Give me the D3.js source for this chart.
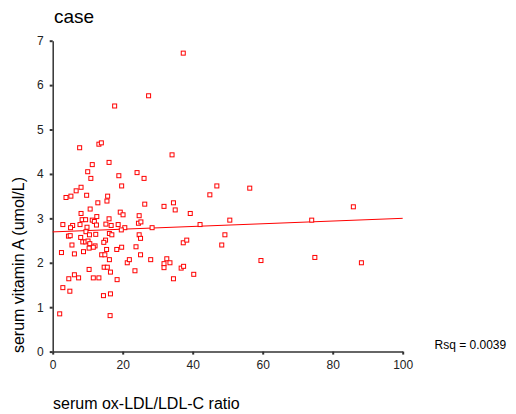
<!DOCTYPE html>
<html lang="en">
<head>
<meta charset="UTF-8">
<title>case</title>
<script src="https://d3js.org/d3.v7.min.js"></script>
<style>
    body { margin: 0; background: #fff; }
    svg { display: block; font-family: "Liberation Sans", Arial, sans-serif; }
    .axis path, .axis line { stroke: #333; }
    .axis text { fill: #222; font-size: 12px; }
</style>
</head>
<body>
<div id="chart"></div>
<script>
// serum ox-LDL/LDL-C ratio (x) and serum vitamin A in umol/L (y)
const ratio = [
    37.3, 27.4, 17.7, 7.7, 13.2, 13.9, 34.1, 11.3, 16.1, 10.0,
    10.9, 18.9, 24.1, 26.1, 19.7, 8.1, 6.7, 5.2, 3.8, 9.7,
    15.7, 44.9, 46.9, 56.3, 85.9, 74.0, 59.5, 74.9, 88.2, 50.6,
    49.2, 48.3, 42.1, 15.5, 34.5, 26.3, 12.9, 10.7, 31.8, 35.0,
    39.3, 8.1, 19.3, 20.1, 12.6, 24.7, 16.1, 8.4, 9.4, 11.3,
    11.9, 5.7, 2.9, 7.8, 9.8, 12.5, 15.2, 16.7, 18.7, 20.6,
    19.6, 24.5, 25.2, 28.4, 5.1, 9.5, 10.5, 8.0, 12.3, 4.5,
    5.0, 16.2, 16.9, 15.1, 14.6, 8.6, 9.4, 10.1, 10.6, 5.5,
    12.1, 11.6, 10.4, 2.5, 6.2, 8.8, 15.4, 18.3, 19.7, 14.0,
    14.9, 16.2, 21.3, 21.9, 10.4, 14.7, 15.6, 16.5, 6.2, 7.4,
    4.6, 11.6, 13.2, 18.4, 2.9, 4.9, 14.5, 16.5, 2.0, 16.4,
    24.7, 25.1, 37.3, 38.3, 23.8, 25.1, 28.0, 32.6, 31.8, 31.8,
    33.5, 36.7, 37.4, 23.5, 34.5, 40.3
];
const vitaminA = [
    6.72, 5.76, 5.53, 4.59, 4.67, 4.70, 4.43, 4.21, 4.26, 4.05,
    3.90, 3.96, 4.03, 3.90, 3.73, 3.70, 3.62, 3.50, 3.47, 3.52,
    3.50, 3.53, 3.73, 3.68, 3.26, 2.96, 2.05, 2.12, 2.00, 2.96,
    2.63, 2.40, 2.86, 3.39, 3.35, 3.32, 3.35, 3.21, 3.27, 3.19,
    3.11, 3.11, 3.14, 3.08, 3.04, 3.06, 2.99, 2.97, 2.97, 2.96,
    2.93, 2.84, 2.86, 2.86, 2.80, 2.85, 2.87, 2.84, 2.86, 2.79,
    2.74, 2.89, 2.92, 2.79, 2.79, 2.70, 2.63, 2.57, 2.64, 2.60,
    2.61, 2.66, 2.63, 2.51, 2.46, 2.47, 2.47, 2.49, 2.43, 2.40,
    2.38, 2.35, 2.33, 2.23, 2.20, 2.25, 2.30, 2.30, 2.35, 2.18,
    2.18, 2.07, 2.00, 2.07, 1.85, 1.90, 1.90, 1.79, 1.73, 1.66,
    1.64, 1.66, 1.66, 1.62, 1.44, 1.36, 1.26, 1.30, 0.85, 0.81,
    2.63, 2.55, 2.45, 2.51, 2.36, 2.18, 2.07, 2.09, 1.98, 1.89,
    2.00, 1.88, 1.92, 1.82, 1.64, 1.74
];
const xTicks = [0, 20, 40, 60, 80, 100];
const yTicks = [0, 1, 2, 3, 4, 5, 6, 7];
const titleText = 'case';
const xLabel = 'serum ox-LDL/LDL-C ratio';
const yLabel = 'serum vitamin A (umol/L)';
const rsqText = 'Rsq = 0.0039';

const width = 516, height = 414;
const svg = d3.select('#chart').append('svg')
    .attr('width', width)
    .attr('height', height);

const x = d3.scaleLinear().domain([0, 100]).range([52.7, 402.7]);
const y = d3.scaleLinear().domain([0, 7]).range([351.6, 40.7]);

// least squares fit line
const points = ratio.map((r, i) => ({ x: r, y: vitaminA[i] }));
const mx = d3.mean(ratio), my = d3.mean(vitaminA);
const slope = d3.sum(points, p => (p.x - mx) * (p.y - my)) / d3.sum(points, p => (p.x - mx) ** 2);
const intercept = my - slope * mx;

// axes
svg.append('g')
    .attr('class', 'axis')
    .attr('transform', `translate(0,${y(0)})`)
    .call(d3.axisBottom(x).tickValues(xTicks).tickFormat(d3.format('d')).tickSize(3).tickPadding(6).tickSizeOuter(0))
    .call(g => g.select('.domain').attr('stroke-width', 1.5))
    .call(g => g.selectAll('.tick line').attr('stroke-width', 2));

svg.append('g')
    .attr('class', 'axis')
    .attr('transform', `translate(${x(0)},0)`)
    .call(d3.axisLeft(y).tickValues(yTicks).tickFormat(d3.format('d')).tickSize(3).tickPadding(6).tickSizeOuter(0))
    .call(g => g.select('.domain').attr('stroke-width', 1.5))
    .call(g => g.selectAll('.tick line').attr('stroke-width', 2));

svg.selectAll('.axis text').attr('font-family', '"Liberation Sans", Arial, sans-serif');

// regression line
svg.append('line')
    .attr('x1', x(0)).attr('y1', y(intercept))
    .attr('x2', x(100)).attr('y2', y(intercept + slope * 100))
    .attr('stroke', '#ff0000')
    .attr('stroke-width', 1);

// markers
svg.append('g').selectAll('rect')
    .data(points)
    .enter().append('rect')
    .attr('x', d => x(d.x) - 2)
    .attr('y', d => y(d.y) - 2)
    .attr('width', 4)
    .attr('height', 4)
    .attr('fill', '#fff')
    .attr('stroke', '#ff0000')
    .attr('stroke-width', 1);

// texts
svg.append('text')
    .attr('x', 54).attr('y', 22.5)
    .attr('font-size', 19)
    .attr('fill', '#000')
    .text(titleText);

svg.append('text')
    .attr('transform', 'translate(24,265) rotate(-90)')
    .attr('text-anchor', 'middle')
    .attr('font-size', 16)
    .attr('fill', '#000')
    .text(yLabel);

svg.append('text')
    .attr('x', 53).attr('y', 409)
    .attr('font-size', 16)
    .attr('fill', '#000')
    .text(xLabel);

svg.append('text')
    .attr('x', 434.5).attr('y', 349.3)
    .attr('font-size', 12)
    .attr('fill', '#000')
    .text(rsqText);
</script>
</body>
</html>
